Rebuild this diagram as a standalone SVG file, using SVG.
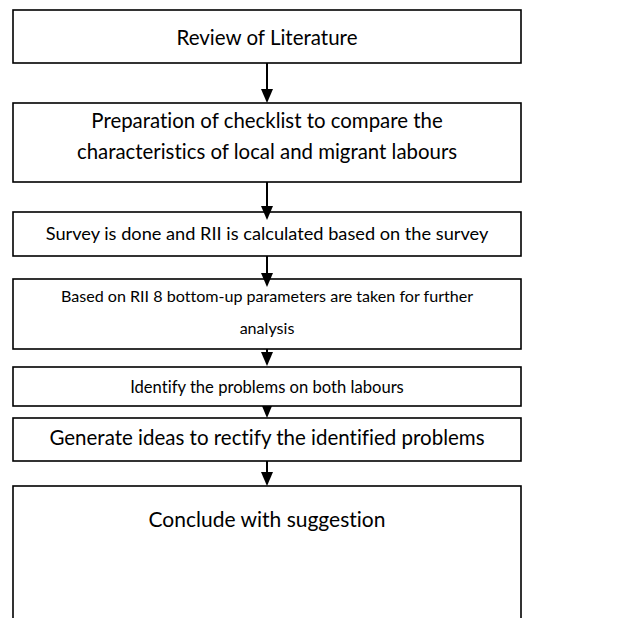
<svg xmlns="http://www.w3.org/2000/svg" width="627" height="618" viewBox="0 0 627 618">
<defs>
<style>
.box{fill:#fff;stroke:#000;stroke-width:1.6}
.t{font-family:Lato,"Liberation Sans",sans-serif;fill:#000;text-anchor:middle;font-variant-ligatures:none}
.c{stroke:#000;stroke-width:2;fill:none}
.h{fill:#000;stroke:none}
</style>
</defs>
<rect width="627" height="618" fill="#fff"/>
<g id="n1"><rect class="box" x="13" y="10" width="508" height="53"/><text class="t" x="267" y="45" font-size="20.5">Review of Literature</text></g>
<g id="n2"><rect class="box" x="13" y="103" width="508" height="79"/><text class="t" x="267" y="128" font-size="20.4">Preparation of checklist to compare the</text><text class="t" x="267" y="159" font-size="20.4">characteristics of local and migrant labours</text></g>
<g id="n3"><rect class="box" x="13" y="212" width="508" height="44"/><text class="t" x="267" y="240" font-size="18.2">Survey is done and RII is calculated based on the survey</text></g>
<g id="n4"><rect class="box" x="13" y="279" width="508" height="70"/><text class="t" x="267" y="302" font-size="16.1">Based on RII 8 bottom-up parameters are taken for further</text><text class="t" x="267" y="334" font-size="16.1">analysis</text></g>
<g id="n5"><rect class="box" x="13" y="367" width="508" height="39"/><text class="t" x="267" y="393" font-size="16.6">Identify the problems on both labours</text></g>
<g id="n6"><rect class="box" x="13" y="418" width="508" height="43"/><text class="t" x="267" y="445" font-size="20.5">Generate ideas to rectify the identified problems</text></g>
<g id="n7"><rect class="box" x="13" y="486" width="508" height="160"/><text class="t" x="267" y="527" font-size="21">Conclude with suggestion</text></g>
<g id="connectors">
<line class="c" x1="267" y1="63" x2="267" y2="90"/><polygon class="h" points="261,89 273,89 267,103"/>
<line class="c" x1="267" y1="182" x2="267" y2="207"/><polygon class="h" points="261,206 273,206 267,220"/>
<line class="c" x1="267" y1="256" x2="267" y2="274"/><polygon class="h" points="261,273 273,273 267,287"/>
<line class="c" x1="267" y1="349" x2="267" y2="353"/><polygon class="h" points="261,352 273,352 267,366"/>
<polygon class="h" points="262,406 272,406 267,418"/>
<line class="c" x1="267" y1="461" x2="267" y2="473"/><polygon class="h" points="261,472 273,472 267,486"/>
</g>
</svg>
